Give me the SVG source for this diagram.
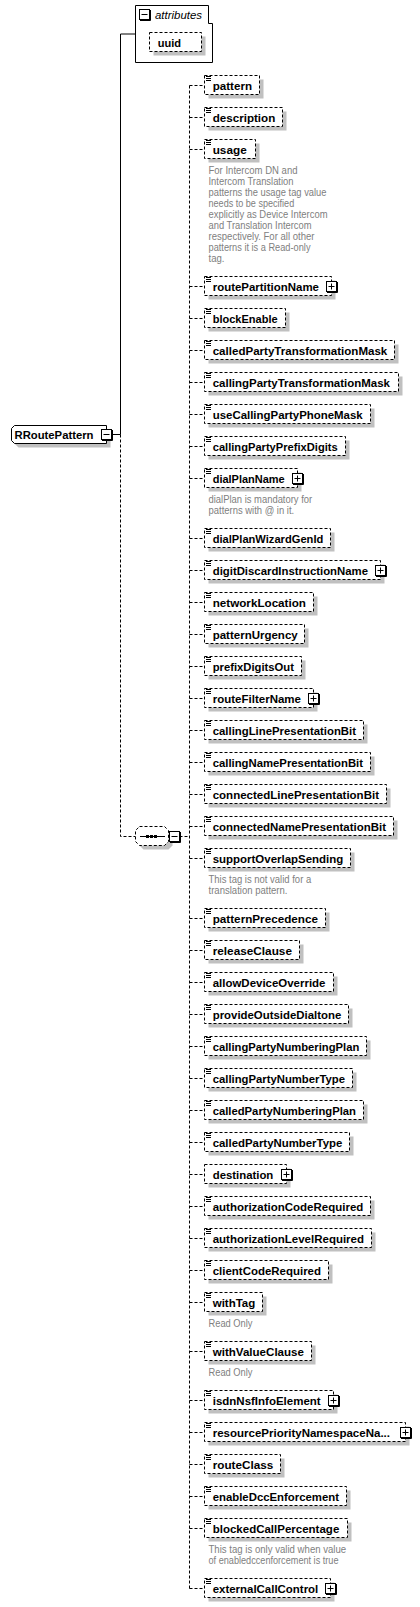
<svg xmlns="http://www.w3.org/2000/svg" width="420" height="1607" viewBox="0 0 420 1607">
<style>
.bg{fill:#fff}
.box{fill:#fff;stroke:#000;stroke-width:1;stroke-dasharray:3 2}
.sbox{fill:#fff;stroke:#000;stroke-width:1}
.sh{fill:#c0c0c0}
.lbl{font-family:"Liberation Sans",Arial,sans-serif;font-weight:bold;font-size:11.5px;fill:#000}
.ital{font-family:"Liberation Sans",Arial,sans-serif;font-style:italic;font-size:11.5px;fill:#000}
.ann{font-family:"Liberation Sans",Arial,sans-serif;font-size:10px;fill:#808080}
.con{fill:none;stroke:#000;stroke-width:1;stroke-dasharray:3 2}
.sol{fill:none;stroke:#000;stroke-width:1}
.ic{stroke:#000;stroke-width:1;fill:none}
</style>
<defs>
<g id="eq"><path class="ic" d="M1.5 1H6.5M1.5 3H6.5M1.5 5H6.5"/></g>
<g id="plus"><rect x="-5" y="5" width="10" height="10" class="sbox"/><path class="ic" d="M-4.5 16H6M6 5.5V16M-3 10H3M0 7V13"/></g>
<g id="minus"><rect x="-5" y="-5" width="10" height="10" class="sbox"/><path class="ic" d="M-4.5 6H6M6 -4.5V6M-3 0H3"/></g>
</defs>
<rect class="bg" x="0" y="0" width="420" height="1607"/>

<g id="connectors">
<path class="sol" d="M135.5 34H120.5V434.5M111.5 434.5H120.5"/>
<path class="con" d="M120.5 434.5V836.5H135.5"/>
<path class="con" d="M179.5 836.5H189.5"/>
<path class="con" d="M189.5 85.5V1588.5"/>
<path class="con" d="M189.5 85.5H204.5M189.5 117.5H204.5M189.5 149.5H204.5M189.5 286.5H204.5M189.5 318.5H204.5M189.5 350.5H204.5M189.5 382.5H204.5M189.5 414.5H204.5M189.5 446.5H204.5M189.5 478.5H204.5M189.5 538.5H204.5M189.5 570.5H204.5M189.5 602.5H204.5M189.5 634.5H204.5M189.5 666.5H204.5M189.5 698.5H204.5M189.5 730.5H204.5M189.5 762.5H204.5M189.5 794.5H204.5M189.5 826.5H204.5M189.5 858.5H204.5M189.5 918.5H204.5M189.5 950.5H204.5M189.5 982.5H204.5M189.5 1014.5H204.5M189.5 1046.5H204.5M189.5 1078.5H204.5M189.5 1110.5H204.5M189.5 1142.5H204.5M189.5 1174.5H204.5M189.5 1206.5H204.5M189.5 1238.5H204.5M189.5 1270.5H204.5M189.5 1302.5H204.5M189.5 1351.5H204.5M189.5 1400.5H204.5M189.5 1432.5H204.5M189.5 1464.5H204.5M189.5 1496.5H204.5M189.5 1528.5H204.5M189.5 1588.5H204.5"/>
</g>

<g id="attributes">
<path class="sbox" d="M135.5 5.5H208.5V23.5H212.5V62.5H135.5Z"/>
<use href="#minus" x="144.5" y="14.5"/>
<text class="ital" x="155" y="19" textLength="47" lengthAdjust="spacingAndGlyphs">attributes</text>
<g id="uuid">
<rect class="sh" x="153.5" y="36.5" width="52" height="19"/>
<rect class="box" x="149.5" y="32.5" width="52" height="19"/>
<text class="lbl" x="157.7" y="46.5" textLength="23.3" lengthAdjust="spacingAndGlyphs">uuid</text>
</g>
</g>

<g id="root">
<path class="sh" d="M18.5 429.5H110.5V447.5H18.5L15.5 444.5V432.5Z"/>
<path class="sbox" d="M14.5 425.5H106.5V443.5H14.5L11.5 440.5V428.5Z"/>
<text class="lbl" x="14.5" y="439" textLength="79" lengthAdjust="spacingAndGlyphs">RRoutePattern</text>
<use href="#minus" x="106.5" y="434.5"/>
</g>

<g id="sequence">
<path class="sh" d="M143.5 830.5H168.5L172.5 834.5V845.5L168.5 849.5H143.5L139.5 845.5V834.5Z"/>
<path class="box" d="M139.5 826.5H164.5L168.5 830.5V841.5L164.5 845.5H139.5L135.5 841.5V830.5Z"/>
<path class="ic" d="M140 836.5H165"/>
<rect x="146" y="835" width="3" height="3" fill="#000"/>
<rect x="150" y="835" width="3" height="3" fill="#000"/>
<rect x="154" y="835" width="3" height="3" fill="#000"/>
<use href="#minus" x="174.5" y="836.5"/>
</g>

<g id="n-pattern" transform="translate(204.5,75.5)"><rect class="sh" x="4" y="4" width="55" height="19"/><rect class="box" width="55" height="19"/><use href="#eq"/><text class="lbl" x="8.2" y="14" textLength="39.3" lengthAdjust="spacingAndGlyphs">pattern</text></g>
<g id="n-description" transform="translate(204.5,107.5)"><rect class="sh" x="4" y="4" width="78" height="19"/><rect class="box" width="78" height="19"/><use href="#eq"/><text class="lbl" x="8.2" y="14" textLength="62.6" lengthAdjust="spacingAndGlyphs">description</text></g>
<g id="n-usage" transform="translate(204.5,139.5)"><rect class="sh" x="4" y="4" width="51" height="19"/><rect class="box" width="51" height="19"/><use href="#eq"/><text class="lbl" x="8.2" y="14" textLength="34" lengthAdjust="spacingAndGlyphs">usage</text>
<text class="ann" x="4" y="34.5" textLength="89" lengthAdjust="spacingAndGlyphs">For Intercom DN and</text>
<text class="ann" x="4" y="45.5" textLength="85" lengthAdjust="spacingAndGlyphs">Intercom Translation</text>
<text class="ann" x="4" y="56.5" textLength="118" lengthAdjust="spacingAndGlyphs">patterns the usage tag value</text>
<text class="ann" x="4" y="67.5" textLength="85.7" lengthAdjust="spacingAndGlyphs">needs to be specified</text>
<text class="ann" x="4" y="78.5" textLength="119" lengthAdjust="spacingAndGlyphs">explicitly as Device Intercom</text>
<text class="ann" x="4" y="89.5" textLength="103" lengthAdjust="spacingAndGlyphs">and Translation Intercom</text>
<text class="ann" x="4" y="100.5" textLength="106" lengthAdjust="spacingAndGlyphs">respectively. For all other</text>
<text class="ann" x="4" y="111.5" textLength="102" lengthAdjust="spacingAndGlyphs">patterns it is a Read-only</text>
<text class="ann" x="4" y="122.5" textLength="16" lengthAdjust="spacingAndGlyphs">tag.</text></g>
<g id="n-routePartitionName" transform="translate(204.5,276.5)"><rect class="sh" x="4" y="4" width="127" height="19"/><rect class="box" width="127" height="19"/><use href="#eq"/><text class="lbl" x="8.2" y="14" textLength="106.3" lengthAdjust="spacingAndGlyphs">routePartitionName</text><use href="#plus" x="127"/></g>
<g id="n-blockEnable" transform="translate(204.5,308.5)"><rect class="sh" x="4" y="4" width="81" height="19"/><rect class="box" width="81" height="19"/><use href="#eq"/><text class="lbl" x="8.2" y="14" textLength="65" lengthAdjust="spacingAndGlyphs">blockEnable</text></g>
<g id="n-calledPartyTransformationMask" transform="translate(204.5,340.5)"><rect class="sh" x="4" y="4" width="190" height="19"/><rect class="box" width="190" height="19"/><use href="#eq"/><text class="lbl" x="8.2" y="14" textLength="174.6" lengthAdjust="spacingAndGlyphs">calledPartyTransformationMask</text></g>
<g id="n-callingPartyTransformationMask" transform="translate(204.5,372.5)"><rect class="sh" x="4" y="4" width="194" height="19"/><rect class="box" width="194" height="19"/><use href="#eq"/><text class="lbl" x="8.2" y="14" textLength="177.3" lengthAdjust="spacingAndGlyphs">callingPartyTransformationMask</text></g>
<g id="n-useCallingPartyPhoneMask" transform="translate(204.5,404.5)"><rect class="sh" x="4" y="4" width="166" height="19"/><rect class="box" width="166" height="19"/><use href="#eq"/><text class="lbl" x="8.2" y="14" textLength="150" lengthAdjust="spacingAndGlyphs">useCallingPartyPhoneMask</text></g>
<g id="n-callingPartyPrefixDigits" transform="translate(204.5,436.5)"><rect class="sh" x="4" y="4" width="141" height="19"/><rect class="box" width="141" height="19"/><use href="#eq"/><text class="lbl" x="8.2" y="14" textLength="125" lengthAdjust="spacingAndGlyphs">callingPartyPrefixDigits</text></g>
<g id="n-dialPlanName" transform="translate(204.5,468.5)"><rect class="sh" x="4" y="4" width="93" height="19"/><rect class="box" width="93" height="19"/><use href="#eq"/><text class="lbl" x="8.2" y="14" textLength="72" lengthAdjust="spacingAndGlyphs">dialPlanName</text><use href="#plus" x="93"/>
<text class="ann" x="4" y="34.5" textLength="103.7" lengthAdjust="spacingAndGlyphs">dialPlan is mandatory for</text>
<text class="ann" x="4" y="45.5" textLength="85.7" lengthAdjust="spacingAndGlyphs">patterns with @ in it.</text></g>
<g id="n-dialPlanWizardGenId" transform="translate(204.5,528.5)"><rect class="sh" x="4" y="4" width="126" height="19"/><rect class="box" width="126" height="19"/><use href="#eq"/><text class="lbl" x="8.2" y="14" textLength="110.6" lengthAdjust="spacingAndGlyphs">dialPlanWizardGenId</text></g>
<g id="n-digitDiscardInstructionName" transform="translate(204.5,560.5)"><rect class="sh" x="4" y="4" width="176" height="19"/><rect class="box" width="176" height="19"/><use href="#eq"/><text class="lbl" x="8.2" y="14" textLength="155.3" lengthAdjust="spacingAndGlyphs">digitDiscardInstructionName</text><use href="#plus" x="176"/></g>
<g id="n-networkLocation" transform="translate(204.5,592.5)"><rect class="sh" x="4" y="4" width="109" height="19"/><rect class="box" width="109" height="19"/><use href="#eq"/><text class="lbl" x="8.2" y="14" textLength="93.3" lengthAdjust="spacingAndGlyphs">networkLocation</text></g>
<g id="n-patternUrgency" transform="translate(204.5,624.5)"><rect class="sh" x="4" y="4" width="100" height="19"/><rect class="box" width="100" height="19"/><use href="#eq"/><text class="lbl" x="8.2" y="14" textLength="85" lengthAdjust="spacingAndGlyphs">patternUrgency</text></g>
<g id="n-prefixDigitsOut" transform="translate(204.5,656.5)"><rect class="sh" x="4" y="4" width="97" height="19"/><rect class="box" width="97" height="19"/><use href="#eq"/><text class="lbl" x="8.2" y="14" textLength="81.3" lengthAdjust="spacingAndGlyphs">prefixDigitsOut</text></g>
<g id="n-routeFilterName" transform="translate(204.5,688.5)"><rect class="sh" x="4" y="4" width="109" height="19"/><rect class="box" width="109" height="19"/><use href="#eq"/><text class="lbl" x="8.2" y="14" textLength="88.3" lengthAdjust="spacingAndGlyphs">routeFilterName</text><use href="#plus" x="109"/></g>
<g id="n-callingLinePresentationBit" transform="translate(204.5,720.5)"><rect class="sh" x="4" y="4" width="159" height="19"/><rect class="box" width="159" height="19"/><use href="#eq"/><text class="lbl" x="8.2" y="14" textLength="143.3" lengthAdjust="spacingAndGlyphs">callingLinePresentationBit</text></g>
<g id="n-callingNamePresentationBit" transform="translate(204.5,752.5)"><rect class="sh" x="4" y="4" width="166" height="19"/><rect class="box" width="166" height="19"/><use href="#eq"/><text class="lbl" x="8.2" y="14" textLength="150.3" lengthAdjust="spacingAndGlyphs">callingNamePresentationBit</text></g>
<g id="n-connectedLinePresentationBit" transform="translate(204.5,784.5)"><rect class="sh" x="4" y="4" width="182" height="19"/><rect class="box" width="182" height="19"/><use href="#eq"/><text class="lbl" x="8.2" y="14" textLength="166.3" lengthAdjust="spacingAndGlyphs">connectedLinePresentationBit</text></g>
<g id="n-connectedNamePresentationBit" transform="translate(204.5,816.5)"><rect class="sh" x="4" y="4" width="189" height="19"/><rect class="box" width="189" height="19"/><use href="#eq"/><text class="lbl" x="8.2" y="14" textLength="173.3" lengthAdjust="spacingAndGlyphs">connectedNamePresentationBit</text></g>
<g id="n-supportOverlapSending" transform="translate(204.5,848.5)"><rect class="sh" x="4" y="4" width="146" height="19"/><rect class="box" width="146" height="19"/><use href="#eq"/><text class="lbl" x="8.2" y="14" textLength="130.6" lengthAdjust="spacingAndGlyphs">supportOverlapSending</text>
<text class="ann" x="4" y="34.5" textLength="102.7" lengthAdjust="spacingAndGlyphs">This tag is not valid for a</text>
<text class="ann" x="4" y="45.5" textLength="79" lengthAdjust="spacingAndGlyphs">translation pattern.</text></g>
<g id="n-patternPrecedence" transform="translate(204.5,908.5)"><rect class="sh" x="4" y="4" width="121" height="19"/><rect class="box" width="121" height="19"/><use href="#eq"/><text class="lbl" x="8.2" y="14" textLength="105.3" lengthAdjust="spacingAndGlyphs">patternPrecedence</text></g>
<g id="n-releaseClause" transform="translate(204.5,940.5)"><rect class="sh" x="4" y="4" width="95" height="19"/><rect class="box" width="95" height="19"/><use href="#eq"/><text class="lbl" x="8.2" y="14" textLength="79.3" lengthAdjust="spacingAndGlyphs">releaseClause</text></g>
<g id="n-allowDeviceOverride" transform="translate(204.5,972.5)"><rect class="sh" x="4" y="4" width="129" height="19"/><rect class="box" width="129" height="19"/><use href="#eq"/><text class="lbl" x="8.2" y="14" textLength="112.8" lengthAdjust="spacingAndGlyphs">allowDeviceOverride</text></g>
<g id="n-provideOutsideDialtone" transform="translate(204.5,1004.5)"><rect class="sh" x="4" y="4" width="144" height="19"/><rect class="box" width="144" height="19"/><use href="#eq"/><text class="lbl" x="8.2" y="14" textLength="128.6" lengthAdjust="spacingAndGlyphs">provideOutsideDialtone</text></g>
<g id="n-callingPartyNumberingPlan" transform="translate(204.5,1036.5)"><rect class="sh" x="4" y="4" width="162" height="19"/><rect class="box" width="162" height="19"/><use href="#eq"/><text class="lbl" x="8.2" y="14" textLength="146.6" lengthAdjust="spacingAndGlyphs">callingPartyNumberingPlan</text></g>
<g id="n-callingPartyNumberType" transform="translate(204.5,1068.5)"><rect class="sh" x="4" y="4" width="148" height="19"/><rect class="box" width="148" height="19"/><use href="#eq"/><text class="lbl" x="8.2" y="14" textLength="132.3" lengthAdjust="spacingAndGlyphs">callingPartyNumberType</text></g>
<g id="n-calledPartyNumberingPlan" transform="translate(204.5,1100.5)"><rect class="sh" x="4" y="4" width="159" height="19"/><rect class="box" width="159" height="19"/><use href="#eq"/><text class="lbl" x="8.2" y="14" textLength="143.3" lengthAdjust="spacingAndGlyphs">calledPartyNumberingPlan</text></g>
<g id="n-calledPartyNumberType" transform="translate(204.5,1132.5)"><rect class="sh" x="4" y="4" width="145" height="19"/><rect class="box" width="145" height="19"/><use href="#eq"/><text class="lbl" x="8.2" y="14" textLength="129.6" lengthAdjust="spacingAndGlyphs">calledPartyNumberType</text></g>
<g id="n-destination" transform="translate(204.5,1164.5)"><rect class="sh" x="4" y="4" width="82" height="19"/><rect class="box" width="82" height="19"/><text class="lbl" x="8.2" y="14" textLength="60.6" lengthAdjust="spacingAndGlyphs">destination</text><use href="#plus" x="82"/></g>
<g id="n-authorizationCodeRequired" transform="translate(204.5,1196.5)"><rect class="sh" x="4" y="4" width="166" height="19"/><rect class="box" width="166" height="19"/><use href="#eq"/><text class="lbl" x="8.2" y="14" textLength="150.6" lengthAdjust="spacingAndGlyphs">authorizationCodeRequired</text></g>
<g id="n-authorizationLevelRequired" transform="translate(204.5,1228.5)"><rect class="sh" x="4" y="4" width="167" height="19"/><rect class="box" width="167" height="19"/><use href="#eq"/><text class="lbl" x="8.2" y="14" textLength="151.3" lengthAdjust="spacingAndGlyphs">authorizationLevelRequired</text></g>
<g id="n-clientCodeRequired" transform="translate(204.5,1260.5)"><rect class="sh" x="4" y="4" width="124" height="19"/><rect class="box" width="124" height="19"/><use href="#eq"/><text class="lbl" x="8.2" y="14" textLength="108.3" lengthAdjust="spacingAndGlyphs">clientCodeRequired</text></g>
<g id="n-withTag" transform="translate(204.5,1292.5)"><rect class="sh" x="4" y="4" width="58" height="19"/><rect class="box" width="58" height="19"/><use href="#eq"/><text class="lbl" x="8.2" y="14" textLength="42.6" lengthAdjust="spacingAndGlyphs">withTag</text>
<text class="ann" x="4" y="34.5" textLength="44" lengthAdjust="spacingAndGlyphs">Read Only</text></g>
<g id="n-withValueClause" transform="translate(204.5,1341.5)"><rect class="sh" x="4" y="4" width="107" height="19"/><rect class="box" width="107" height="19"/><use href="#eq"/><text class="lbl" x="8.2" y="14" textLength="91.3" lengthAdjust="spacingAndGlyphs">withValueClause</text>
<text class="ann" x="4" y="34.5" textLength="44" lengthAdjust="spacingAndGlyphs">Read Only</text></g>
<g id="n-isdnNsfInfoElement" transform="translate(204.5,1390.5)"><rect class="sh" x="4" y="4" width="129" height="19"/><rect class="box" width="129" height="19"/><use href="#eq"/><text class="lbl" x="8.2" y="14" textLength="108" lengthAdjust="spacingAndGlyphs">isdnNsfInfoElement</text><use href="#plus" x="129"/></g>
<g id="n-resourcePriorityNamespaceNa" transform="translate(204.5,1422.5)"><rect class="sh" x="4" y="4" width="201" height="19"/><rect class="box" width="201" height="19"/><use href="#eq"/><text class="lbl" x="8.2" y="14" textLength="177.3" lengthAdjust="spacingAndGlyphs">resourcePriorityNamespaceNa...</text><use href="#plus" x="201"/></g>
<g id="n-routeClass" transform="translate(204.5,1454.5)"><rect class="sh" x="4" y="4" width="76" height="19"/><rect class="box" width="76" height="19"/><use href="#eq"/><text class="lbl" x="8.2" y="14" textLength="60.6" lengthAdjust="spacingAndGlyphs">routeClass</text></g>
<g id="n-enableDccEnforcement" transform="translate(204.5,1486.5)"><rect class="sh" x="4" y="4" width="142" height="19"/><rect class="box" width="142" height="19"/><use href="#eq"/><text class="lbl" x="8.2" y="14" textLength="126.3" lengthAdjust="spacingAndGlyphs">enableDccEnforcement</text></g>
<g id="n-blockedCallPercentage" transform="translate(204.5,1518.5)"><rect class="sh" x="4" y="4" width="143" height="19"/><rect class="box" width="143" height="19"/><use href="#eq"/><text class="lbl" x="8.2" y="14" textLength="126.6" lengthAdjust="spacingAndGlyphs">blockedCallPercentage</text>
<text class="ann" x="4" y="34.5" textLength="137.7" lengthAdjust="spacingAndGlyphs">This tag is only valid when value</text>
<text class="ann" x="4" y="45.5" textLength="130" lengthAdjust="spacingAndGlyphs">of enabledccenforcement is true</text></g>
<g id="n-externalCallControl" transform="translate(204.5,1578.5)"><rect class="sh" x="4" y="4" width="126" height="19"/><rect class="box" width="126" height="19"/><use href="#eq"/><text class="lbl" x="8.2" y="14" textLength="105.6" lengthAdjust="spacingAndGlyphs">externalCallControl</text><use href="#plus" x="126"/></g>
</svg>
